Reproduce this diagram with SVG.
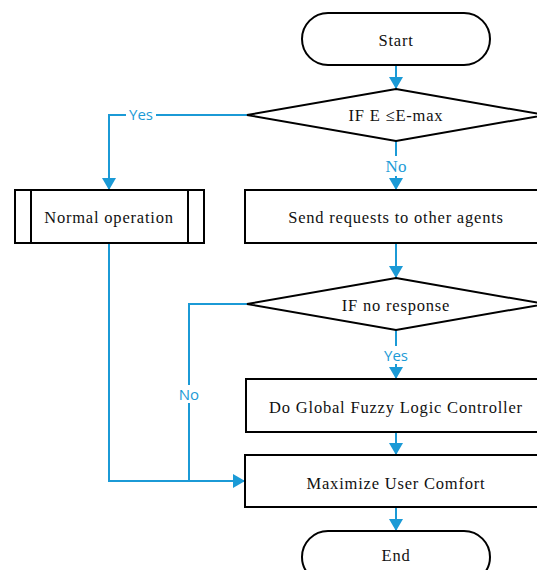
<svg xmlns="http://www.w3.org/2000/svg" width="537" height="570" viewBox="0 0 537 570">
  <style>
    .shape { fill: #ffffff; stroke: #000000; stroke-width: 2; }
    .label { font-family: "Liberation Serif", "Times New Roman", serif; font-size: 16.5px; letter-spacing: 0.8px; fill: #111111; text-anchor: middle; dominant-baseline: central; }
    .edge { fill: none; stroke: #1b9ad6; stroke-width: 2; }
    .edge-label { font-family: "Open Sans", "Noto Sans", sans-serif; font-size: 15px; fill: #1b9ad6; text-anchor: middle; dominant-baseline: central; }
    .edge-label-serif { font-family: "Liberation Serif", "Times New Roman", serif; font-size: 17px; fill: #1b9ad6; text-anchor: middle; dominant-baseline: central; }
  </style>
  <defs>
    <marker id="arrow" markerWidth="14" markerHeight="14" refX="12" refY="7" orient="auto" markerUnits="userSpaceOnUse">
      <path d="M0,0 L12,7 L0,14 Z" fill="#1b9ad6"/>
    </marker>
  </defs>
  <rect width="537" height="570" fill="#ffffff"/>

  <!-- connectors -->
  <g id="connectors">
    <path class="edge" d="M396,65 V89" marker-end="url(#arrow)"/>
    <path class="edge" d="M396,141 V190" marker-end="url(#arrow)"/>
    <path class="edge" d="M247,115 H109 V190" marker-end="url(#arrow)"/>
    <path class="edge" d="M396,243 V278" marker-end="url(#arrow)"/>
    <path class="edge" d="M396,330 V379" marker-end="url(#arrow)"/>
    <path class="edge" d="M247,304 H189 V481" />
    <path class="edge" d="M109,243 V481 H245" marker-end="url(#arrow)"/>
    <path class="edge" d="M396,432 V455" marker-end="url(#arrow)"/>
    <path class="edge" d="M396,507 V531" marker-end="url(#arrow)"/>
    <!-- label backgrounds -->
    <rect x="126" y="106" width="30" height="18" fill="#ffffff"/>
    <text class="edge-label" x="141" y="114">Yes</text>
    <rect x="382" y="156" width="28" height="20" fill="#ffffff"/>
    <text class="edge-label-serif" x="396" y="166">No</text>
    <rect x="380" y="346" width="32" height="18" fill="#ffffff"/>
    <text class="edge-label" x="396" y="355">Yes</text>
    <rect x="175" y="385" width="28" height="18" fill="#ffffff"/>
    <text class="edge-label" x="189" y="394">No</text>
  </g>

  <g id="start">
    <rect class="shape" x="302" y="13" width="188" height="52" rx="26" ry="26"/>
    <text class="label" x="396" y="40">Start</text>
  </g>

  <g id="check-energy">
    <polygon class="shape" points="396,89 545,115 396,141 247,115"/>
    <text class="label" x="396" y="115">IF E ≤E-max</text>
  </g>

  <g id="normal-operation">
    <rect class="shape" x="15" y="190" width="189" height="53"/>
    <line x1="31" y1="190" x2="31" y2="243" stroke="#000000" stroke-width="2"/>
    <line x1="188" y1="190" x2="188" y2="243" stroke="#000000" stroke-width="2"/>
    <text class="label" x="109" y="217">Normal operation</text>
  </g>

  <g id="send-requests">
    <rect class="shape" x="245" y="190" width="302" height="53"/>
    <text class="label" x="396" y="217">Send requests to other agents</text>
  </g>

  <g id="check-response">
    <polygon class="shape" points="396,278 545,304 396,330 247,304"/>
    <text class="label" x="396" y="305">IF no response</text>
  </g>

  <g id="global-flc">
    <rect class="shape" x="246" y="379" width="302" height="53"/>
    <text class="label" x="396" y="407">Do Global Fuzzy Logic Controller</text>
  </g>

  <g id="maximize-comfort">
    <rect class="shape" x="245" y="455" width="302" height="52"/>
    <text class="label" x="396" y="483">Maximize User Comfort</text>
  </g>

  <g id="end">
    <rect class="shape" x="302" y="531" width="188" height="52" rx="26" ry="26"/>
    <text class="label" x="396" y="555">End</text>
  </g>
</svg>
